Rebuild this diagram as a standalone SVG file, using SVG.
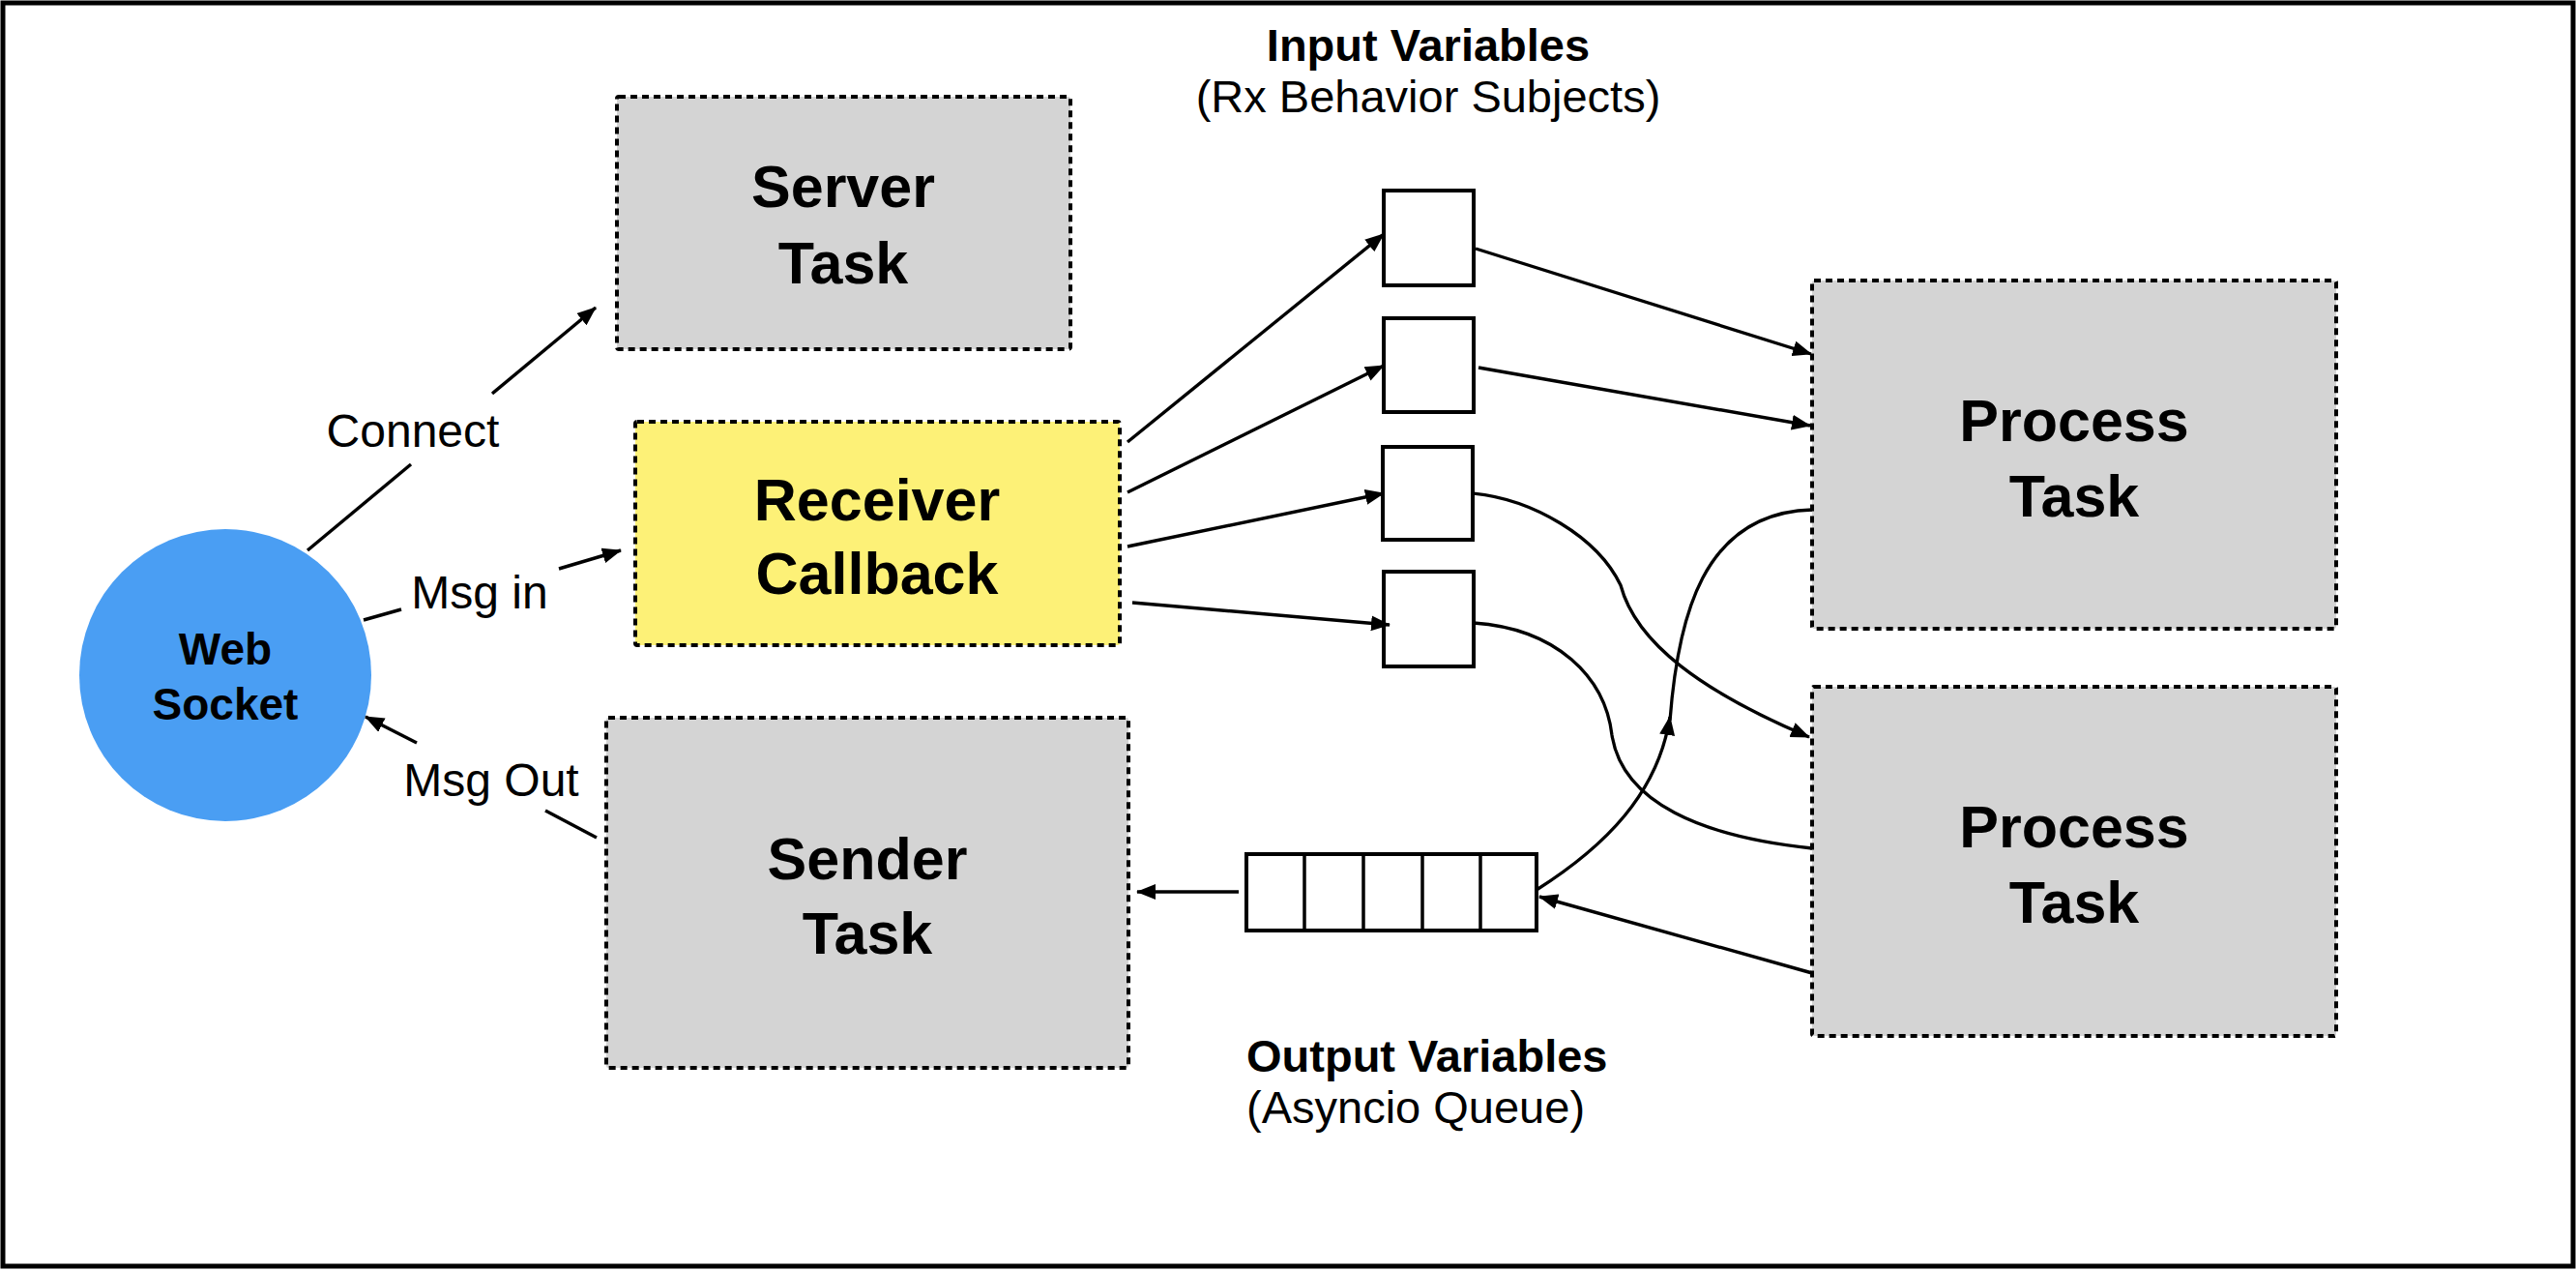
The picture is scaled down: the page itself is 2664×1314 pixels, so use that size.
<svg xmlns="http://www.w3.org/2000/svg" width="2664" height="1314" viewBox="0 0 2664 1314">
<defs>
<style>
text{font-family:"Liberation Sans",Arial,Helvetica,sans-serif;fill:#000}
.big{font-size:61px;font-weight:bold;text-anchor:middle}
.ws{font-size:46px;font-weight:bold;text-anchor:middle}
.lbl{font-size:48px}
.hdr{font-size:47px;font-weight:bold}
.sub{font-size:47px}
.task{fill:#D4D4D4;stroke:#000;stroke-width:4;stroke-dasharray:7 5}
.recv{fill:#FDF177;stroke:#000;stroke-width:4;stroke-dasharray:7 5}
.var{fill:#fff;stroke:#000;stroke-width:4}
.ln{fill:none;stroke:#000;stroke-width:3.4}
.cv{fill:none;stroke:#000;stroke-width:3.3}
.arr{marker-end:url(#ah)}
</style>
<marker id="ah" viewBox="0 0 20 16" refX="19" refY="8" markerWidth="20" markerHeight="16" markerUnits="userSpaceOnUse" orient="auto">
<path d="M0,0 L20,8 L0,16 z" fill="#000"/>
</marker>
</defs>
<rect x="0" y="0" width="2664" height="1314" fill="#fff"/>
<rect x="3" y="3" width="2658" height="1306" fill="none" stroke="#000" stroke-width="5"/>

<g id="web-socket">
<circle cx="233" cy="698" r="151" fill="#4A9EF3"/>
<text class="ws" x="233" y="687">Web</text>
<text class="ws" x="233" y="744">Socket</text>
</g>

<g id="server-task">
<rect class="task" x="638" y="100" width="469" height="261" rx="2"/>
<text class="big" x="872" y="214">Server</text>
<text class="big" x="872" y="293">Task</text>
</g>

<g id="receiver-callback">
<rect class="recv" x="657" y="436" width="501" height="231" rx="2"/>
<text class="big" x="907" y="538">Receiver</text>
<text class="big" x="907" y="614">Callback</text>
</g>

<g id="sender-task">
<rect class="task" x="627" y="742" width="540" height="362" rx="2"/>
<text class="big" x="897" y="909">Sender</text>
<text class="big" x="897" y="986">Task</text>
</g>

<g id="process-task-1">
<rect class="task" x="1874" y="290" width="542" height="360" rx="2"/>
<text class="big" x="2145" y="456">Process</text>
<text class="big" x="2145" y="534">Task</text>
</g>

<g id="process-task-2">
<rect class="task" x="1874" y="710" width="542" height="361" rx="2"/>
<text class="big" x="2145" y="876">Process</text>
<text class="big" x="2145" y="954">Task</text>
</g>

<g id="input-variables">
<rect class="var" x="1431" y="197" width="93" height="98"/>
<rect class="var" x="1431" y="329" width="93" height="97"/>
<rect class="var" x="1430" y="462" width="93" height="96"/>
<rect class="var" x="1431" y="591" width="93" height="98"/>
<text class="hdr" x="1477" y="63" text-anchor="middle">Input Variables</text>
<text class="sub" x="1477" y="116" text-anchor="middle">(Rx Behavior Subjects)</text>
</g>

<g id="output-queue">
<rect class="var" x="1289" y="883" width="300" height="79" stroke-width="3.5"/>
<path d="M1349,883 V962 M1410,883 V962 M1471,883 V962 M1531,883 V962" stroke="#000" stroke-width="3.5" fill="none"/>
<text class="hdr" x="1289" y="1108">Output Variables</text>
<text class="sub" x="1289" y="1161">(Asyncio Queue)</text>
</g>

<g id="connectors">
<path class="ln" d="M318,569 L425,480"/>
<path class="ln arr" d="M509,407 L616,318"/>
<text class="lbl" x="427" y="462" text-anchor="middle">Connect</text>

<path class="ln" d="M376,641 L415,630"/>
<path class="ln arr" d="M578,588 L642,569"/>
<text class="lbl" x="496" y="629" text-anchor="middle">Msg in</text>

<path class="ln" d="M617,866 L564,838"/>
<path class="ln arr" d="M431,768 L378,741"/>
<text class="lbl" x="508" y="823" text-anchor="middle">Msg Out</text>

<path class="ln arr" d="M1166,457 L1431,242"/>
<path class="ln arr" d="M1166,509 L1431,378"/>
<path class="ln arr" d="M1166,565 L1431,510"/>
<path class="ln arr" d="M1171,623 L1437,646"/>

<path class="ln arr" d="M1526,257 L1873,366"/>
<path class="ln arr" d="M1529,380 L1872,440"/>

<path class="cv arr" d="M1523,510 C1585,516 1652,555 1676,605 C1692,665 1760,715 1871,762"/>
<path class="cv" d="M1524,644 C1610,650 1660,700 1667,760 C1678,830 1760,865 1874,877"/>

<path class="ln arr" d="M1874,1006 L1592,927"/>
<path class="ln arr" d="M1281,922 L1176,922"/>

<path class="cv arr" d="M1589,920 C1660,875 1715,820 1727,741"/>
<path class="cv" d="M1727,745 C1735,640 1760,530 1874,527"/>
</g>
</svg>
